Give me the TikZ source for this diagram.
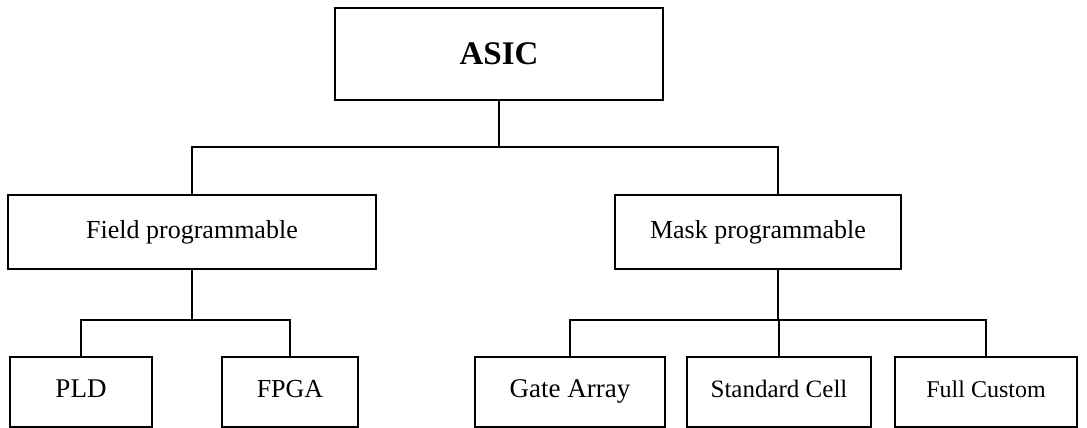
\documentclass[tikz,border=0pt]{standalone}
\usepackage{fontspec}
\setmainfont{Liberation Serif}
\begin{document}
\begin{tikzpicture}[x=1pt,y=-1pt,
  box/.style={draw, line width=1.4pt, rectangle, inner sep=0pt},
  leaf/.style={box, minimum height=70pt, text height=18pt, text depth=7pt},
  link/.style={line width=1.4pt},
  midtext/.style={font=\fontsize{26}{31}\selectfont},
  lowtext/.style={font=\fontsize{27}{32}\selectfont}]
\useasboundingbox (0,0) rectangle (1087,428);

% root
\node[box, minimum width=328pt, minimum height=92pt,
      font=\bfseries\fontsize{33}{40}\selectfont] (asic) at (499,54) {ASIC};

% second level
\node[box, midtext, minimum width=368pt, minimum height=74pt] (field) at (192,232) {Field programmable};
\node[box, midtext, minimum width=286pt, minimum height=74pt] (mask) at (758,232) {Mask programmable};

% leaves
\node[leaf, lowtext, minimum width=142pt] (pld)  at (81,392)  {PLD};
\node[leaf, font=\fontsize{26}{31}\selectfont, minimum width=136pt] (fpga) at (290,392) {FPGA};
\node[leaf, lowtext, minimum width=190pt] (gate) at (570,392) {Gate Array};
\node[leaf, font=\fontsize{25}{30}\selectfont, minimum width=184pt] (std)  at (779,392) {Standard Cell};
\node[leaf, font=\fontsize{24}{29}\selectfont, minimum width=182pt] (full) at (986,392) {Full Custom};

% junction levels
\coordinate (j1) at (499,147);
\coordinate (jf) at (192,320);
\coordinate (jm) at (778,320);

% connectors
\draw[link] (asic.south) -- (j1);
\draw[link] (field.north) |- (j1) -| (jm |- mask.north);
\draw[link] (field.south) -- (jf);
\draw[link] (pld.north) |- (jf) -| (fpga.north);
\draw[link] (jm |- mask.south) -- (jm);
\draw[link] (gate.north) |- (jm) -| (full.north);
\draw[link] (std.north) -- (std.north |- jm);
\end{tikzpicture}
\end{document}
